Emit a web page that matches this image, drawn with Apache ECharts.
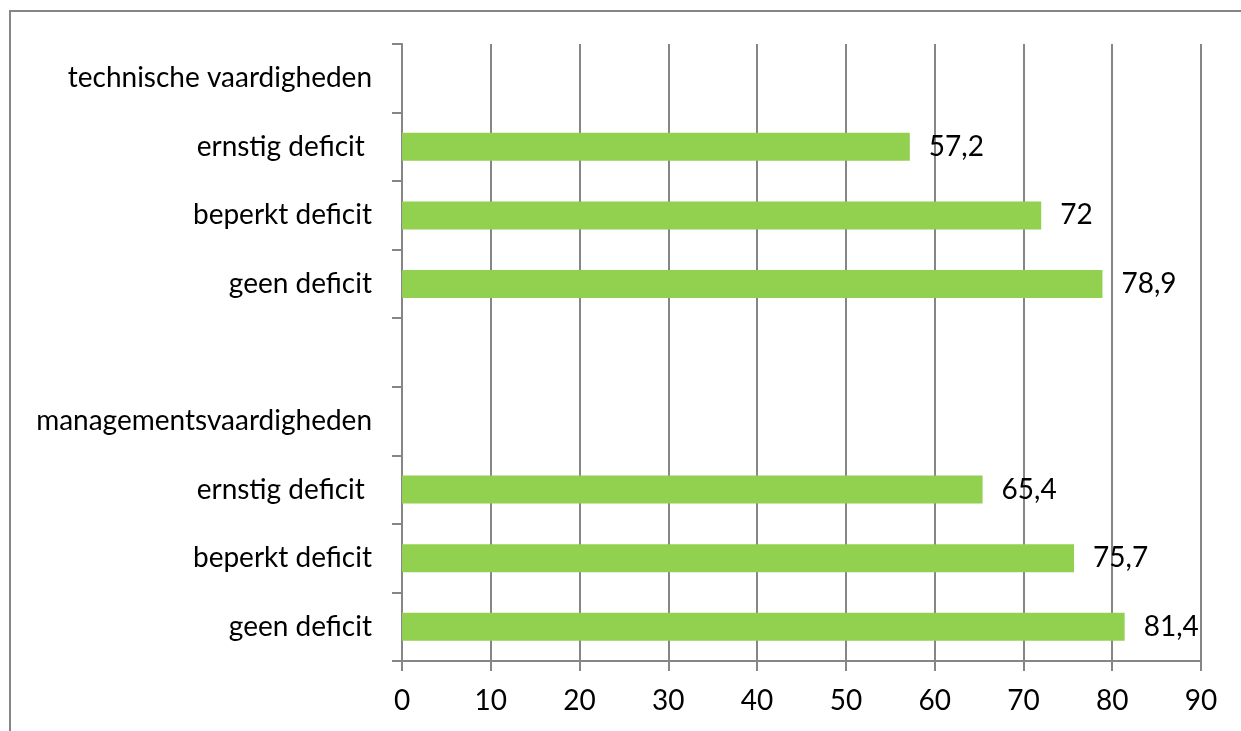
<!DOCTYPE html>
<html>
<head>
<meta charset="utf-8">
<script src="https://cdn.jsdelivr.net/npm/echarts@6/dist/echarts.min.js"></script>
<style>
html,body{margin:0;padding:0;background:#fff;}
#chart{width:1241px;height:731px;}
</style>
</head>
<body>
<div id="chart"></div>
<script>
// Categories listed bottom to top
const categories = [
  'geen deficit',
  'beperkt deficit',
  'ernstig deficit ',
  'managementsvaardigheden',
  '',
  'geen deficit',
  'beperkt deficit',
  'ernstig deficit ',
  'technische vaardigheden'
];
const values = [81.4, 75.7, 65.4, null, null, 78.9, 72, 57.2, null];
const xTicks = { min: 0, max: 90, interval: 10 };

const FONT = 'Lato';
const FS = 28;
const GRAY = '#868686';

const chart = echarts.init(document.getElementById('chart'), null, { renderer: 'canvas' });
chart.setOption({
  animation: false,
  backgroundColor: '#ffffff',
  textStyle: { fontFamily: FONT },
  graphic: [{
    type: 'rect',
    shape: { x: 10, y: 11, width: 1400, height: 900 },
    style: { fill: 'none', stroke: GRAY, lineWidth: 2 },
    silent: true
  }],
  grid: { left: 402, right: 40, top: 44, bottom: 70, containLabel: false },
  xAxis: {
    type: 'value',
    min: xTicks.min, max: xTicks.max, interval: xTicks.interval,
    axisLine: { show: true, lineStyle: { color: GRAY, width: 2 } },
    axisTick: { show: true, length: 10, lineStyle: { color: GRAY, width: 2 } },
    axisLabel: { color: '#000', fontFamily: FONT, fontSize: FS, margin: 26 },
    splitLine: { show: true, lineStyle: { color: GRAY, width: 2 } }
  },
  yAxis: {
    type: 'category',
    data: categories,
    axisLine: { show: true, lineStyle: { color: GRAY, width: 2 } },
    axisTick: { show: true, length: 10, interval: 0, lineStyle: { color: GRAY, width: 2 } },
    axisLabel: { color: '#000', fontFamily: FONT, fontSize: FS, margin: 30, interval: 0 },
    splitLine: { show: false }
  },
  series: [{
    type: 'bar',
    data: values,
    barWidth: 28,
    itemStyle: { color: '#92D050' },
    label: {
      show: true,
      position: 'right',
      distance: 19,
      color: '#000',
      fontFamily: FONT,
      fontSize: FS,
      formatter: p => (p.value == null ? '' : String(p.value).replace('.', ','))
    }
  }]
});
</script>
</body>
</html>
